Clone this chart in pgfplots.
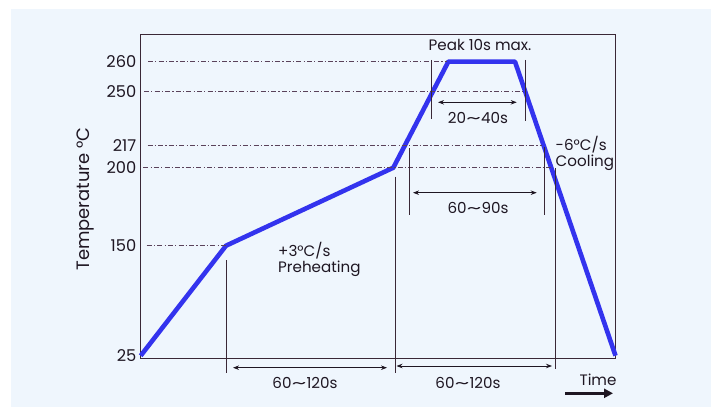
\documentclass[border=0pt]{standalone}
\usepackage{fontspec}
\setmainfont{Poppins}
\usepackage{graphicx}
\usepackage{pgfplots}
\pgfplotsset{compat=1.18}
\usetikzlibrary{arrows.meta}
\definecolor{panel}{RGB}{239,246,253}
\definecolor{prof}{RGB}{51,51,238}
\definecolor{guide}{RGB}{90,66,90}
\definecolor{vline}{RGB}{58,40,54}
\definecolor{ink}{RGB}{30,22,34}
\newcommand{\lbl}{\fontsize{15.2}{17}\selectfont}
\newcommand{\tl}{\scalebox{1.9}[1]{\textasciitilde}}
\begin{document}
\begin{tikzpicture}[x=1bp,y=1bp]
\fill[white] (0,0) rectangle (711,407);
\fill[panel] (11,0) rectangle (711,398);
\begin{axis}[
  at={(140bp,48.7bp)}, anchor=south west,
  scale only axis, width=475.7bp, height=324.3bp,
  xmin=0, xmax=475.7, ymin=0, ymax=324.3,
  axis line style={vline, line width=0.8bp},
  xtick=\empty,
  ytick={2.6,112.6,190.6,212.6,266.6,296.6},
  yticklabels={25,150,200,217,250,260},
  major tick length=0pt,
  /pgf/number format/assume math mode=true,
  yticklabel style={font=\fontsize{16.3}{18}\selectfont, text=ink, inner sep=0pt, xshift=-3.5bp},
  ylabel={Temperature °C},
  ylabel style={font=\fontsize{18}{20}\selectfont, text=ink, at={(axis description cs:-0.1156,0.491)}, anchor=center},
  clip=false,
]
% reflow profile (x: time, y: display position of temperatures 25,150,200,260,260,25)
\addplot[prof, line width=4.6bp, line join=round] coordinates {
  (0.7,2.6) (86,112.6) (253.3,190.6) (308.3,296.6) (375,296.6) (475.5,2.6)};
% dash-dot guides
\begin{scope}[guide, line width=0.8bp, dash pattern=on 5bp off 2.2bp on 1.2bp off 2.2bp]
\draw (axis cs:8,296.6) -- (axis cs:306.7,296.6);
\draw (axis cs:4,266.6) -- (axis cs:385,266.6);
\draw (axis cs:7.5,212.6) -- (axis cs:402,212.6);
\draw (axis cs:3.3,190.6) -- (axis cs:413,190.6);
\draw (axis cs:6.7,112.6) -- (axis cs:86,112.6);
\end{scope}
% vertical markers
\begin{scope}[vline, line width=0.8bp]
\draw (axis cs:86,98.3) -- (axis cs:86,-14.4);
\draw (axis cs:255,181.6) -- (axis cs:255,-15);
\draw (axis cs:269.3,210) -- (axis cs:269.3,143.3);
\draw (axis cs:404,211.6) -- (axis cs:404,143.3);
\draw (axis cs:415,190) -- (axis cs:415,-11);
\draw (axis cs:291.7,298.3) -- (axis cs:291.7,239);
\draw (axis cs:385.7,298.3) -- (axis cs:385.7,237.6);
\end{scope}
% double arrows
\begin{scope}[ink, line width=0.8bp, {Stealth[length=6bp,width=4.5bp]}-{Stealth[length=6bp,width=4.5bp]}]
\draw (axis cs:93,-9.4) -- (axis cs:247,-9.4);
\draw (axis cs:256.5,-7.7) -- (axis cs:412,-7.7);
\draw (axis cs:273,165.6) -- (axis cs:396.7,165.6);
\draw (axis cs:298,256) -- (axis cs:376.7,256);
\end{scope}
\begin{scope}[every node/.style={font=\lbl, text=ink}]
\node at (axis cs:165,-24.4) {60\tl120s};
\node at (axis cs:328,-24.4) {60\tl120s};
\node at (axis cs:338,150.3) {60\tl90s};
\node at (axis cs:338,240) {20\tl40s};
\node at (axis cs:340,313.3) {Peak 10s max.};
\node[anchor=west, inner sep=0pt] at (axis cs:415.5,213.3) {-6°C/s};
\node[anchor=west, inner sep=0pt] at (axis cs:415.5,195.6) {Cooling};
\node[anchor=west, inner sep=0pt] at (axis cs:138,107.6) {+3°C/s};
\node[anchor=west, inner sep=0pt] at (axis cs:138,89.3) {Preheating};
\node at (axis cs:458,-21.7) {Time};
\end{scope}
\draw[ink, line width=2.4bp, -{Triangle[length=9bp,width=9bp]}] (axis cs:425,-35) -- (axis cs:473,-35);
\end{axis}
\end{tikzpicture}
\end{document}
